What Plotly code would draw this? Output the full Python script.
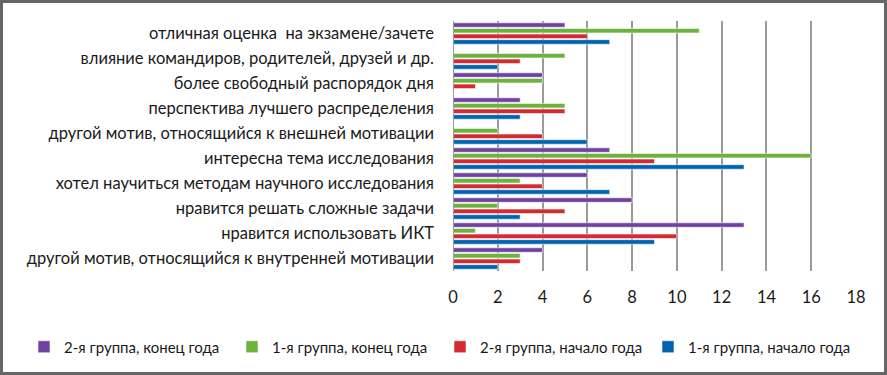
import plotly.graph_objects as go

categories = [
    "другой мотив, относящийся к внутренней мотивации",
    "нравится использовать ИКТ",
    "нравится решать сложные задачи",
    "хотел научиться методам научного исследования",
    "интересна тема исследования",
    "другой мотив, относящийся к внешней мотивации",
    "перспектива лучшего распределения",
    "более свободный распорядок дня",
    "влияние командиров, родителей, друзей и др.",
    "отличная оценка  на экзамене/зачете",
]

g1_start = [2, 9, 3, 7, 13, 6, 3, 0, 2, 7]
g2_start = [3, 10, 5, 4, 9, 4, 5, 1, 3, 6]
g1_end = [3, 1, 2, 3, 16, 2, 5, 4, 5, 11]
g2_end = [4, 13, 8, 6, 7, 0, 3, 4, 0, 5]

series_names = [
    "1-я группа, начало года",
    "2-я группа, начало года",
    "1-я группа, конец года",
    "2-я группа, конец года",
]
series_values = [g1_start, g2_start, g1_end, g2_end]
series_colors = ["#0064B1", "#D62A2E", "#6CB33E", "#7143A0"]

x_ticks = [0, 2, 4, 6, 8, 10, 12, 14, 16, 18]

fig = go.Figure()
for name, vals, col in zip(series_names, series_values, series_colors):
    fig.add_trace(go.Bar(
        y=categories, x=vals, name=name, orientation="h",
        marker=dict(color=col, line=dict(color="rgba(255,255,255,0.55)", width=1)),
    ))

W, H = 887, 375
ml, mr, mt, mb = 453, 31, 21, 104
pw, ph = W - ml - mr, H - mt - mb

fig.update_layout(
    width=W, height=H,
    margin=dict(l=ml, r=mr, t=mt, b=mb, autoexpand=False),
    paper_bgcolor="white", plot_bgcolor="white",
    barmode="group", bargap=0.1, bargroupgap=0.2,
    font=dict(family="Lato, sans-serif", size=15, color="#1a1a1a"),
    showlegend=True,
    legend=dict(
        orientation="h", traceorder="reversed",
        xref="paper", yref="paper",
        x=(24 - ml) / pw, xanchor="left",
        y=-(347 - (H - mb)) / ph, yanchor="middle",
        font=dict(size=15), itemwidth=30,
        entrywidth=163, entrywidthmode="pixels",
    ),
    xaxis=dict(
        range=[0, 18], tickvals=x_ticks, showgrid=True,
        gridcolor="#9a9a9a", gridwidth=2, zeroline=False,
        showline=False, ticks="", tickfont=dict(size=16.5),
        ticklabelstandoff=14, automargin=False,
    ),
    yaxis=dict(
        showgrid=False, showline=False, ticks="", ticklabelstandoff=18,
        tickfont=dict(size=16.5), automargin=False,
    ),
    shapes=[dict(
        type="rect", xref="paper", yref="paper",
        x0=(1.5 - ml) / pw, x1=(W - 1.5 - ml) / pw,
        y0=-(mb - 1.5) / ph, y1=1 + (mt - 1.5) / ph,
        line=dict(color="#666666", width=3), layer="above",
    )],
)
fig.add_shape(type="line", xref="x", yref="paper", x0=0, x1=0, y0=0, y1=1,
              line=dict(color="#9a9a9a", width=2))

fig.write_html(
    "out.html",
    config={"displayModeBar": False},
    post_script="document.body.style.margin='0';document.body.style.overflow='hidden';",
)
